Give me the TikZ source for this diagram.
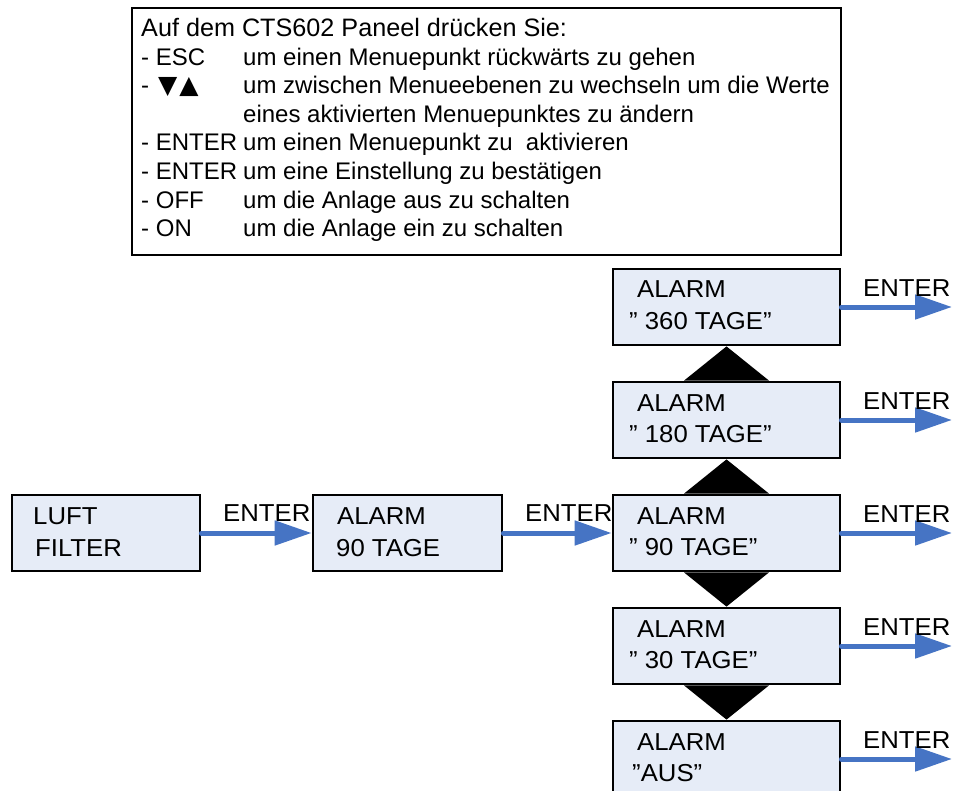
\documentclass[tikz,border=0pt]{standalone}
\usepackage{fontspec}
\setmainfont{Liberation Sans}
\newfontfamily\boxfont[FakeStretch=1.05]{Liberation Sans}
\newfontfamily\symfont{DejaVu Sans}
\usetikzlibrary{arrows.meta,backgrounds}
\definecolor{boxfill}{RGB}{230,236,247}
\definecolor{arrowblue}{RGB}{70,116,196}
\tikzset{
  legendbox/.style={draw=black, line width=2pt, fill=white, inner sep=0pt,
    minimum width=709pt, minimum height=247pt},
  legendtxt/.style={anchor=base west, inner sep=0pt, font=\fontsize{24}{28}\selectfont},
  menubox/.style={draw=black, line width=2.8pt, fill=boxfill, inner sep=0pt,
    minimum height=76pt},
  boxtxt/.style={anchor=base west, inner sep=0pt, font=\boxfont\fontsize{24.5}{28}\selectfont},
  entertxt/.style={anchor=base west, inner sep=0pt, font=\boxfont\fontsize{24.5}{28}\selectfont},
  enterarrow/.style={draw=arrowblue, line width=5pt, line cap=round,
    -{Triangle[length=37pt,width=24pt]}},
  switchtri/.style={fill=black}
}
\begin{document}
\begin{tikzpicture}[x=1pt,y=-1pt]
\useasboundingbox (0,0) rectangle (957,791);

% legend box
\node[legendbox] (legend) at (486.5,131.5) {};
\node[legendtxt, font=\fontsize{25.2}{28}\selectfont] (l1) at (141,36.5) {Auf dem CTS602 Paneel drücken Sie:};
\node[legendtxt] (l2a) at (141,65.1) {- ESC};
\node[legendtxt] (l2b) at (243,65.1) {um einen Menuepunkt rückwärts zu gehen};
\node[legendtxt] (l3a) at (141,93.7) {-\kern9pt{\symfont\fontsize{25}{28}\selectfont ▼\kern2pt▲}};
\node[legendtxt] (l3b) at (243,93.7) {um zwischen Menueebenen zu wechseln um die Werte};
\node[legendtxt] (l4b) at (243,122.3) {eines aktivierten Menuepunktes zu ändern};
\node[legendtxt] (l5a) at (141,150.9) {- ENTER};
\node[legendtxt] (l5b) at (243,150.9) {um einen Menuepunkt zu\ \ aktivieren};
\node[legendtxt] (l6a) at (141,179.5) {- ENTER};
\node[legendtxt] (l6b) at (243,179.5) {um eine Einstellung zu bestätigen};
\node[legendtxt] (l7a) at (141,208.1) {- OFF};
\node[legendtxt] (l7b) at (243,208.1) {um die Anlage aus zu schalten};
\node[legendtxt] (l8a) at (141,236.7) {- ON};
\node[legendtxt] (l8b) at (243,236.7) {um die Anlage ein zu schalten};

% menu boxes
\node[menubox, minimum width=188pt] (luft) at (106,533) {};
\node[menubox, minimum width=189pt] (a90) at (407.5,533) {};
\node[menubox, minimum width=227pt] (r360) at (726.5,307) {};
\node[menubox, minimum width=227pt] (r180) at (726.5,420) {};
\node[menubox, minimum width=227pt] (r90) at (726.5,533) {};
\node[menubox, minimum width=227pt] (r30) at (726.5,646) {};
\node[menubox, minimum width=227pt] (raus) at (726.5,759) {};

% box texts
\node[boxtxt] (t1a) at (33,524.5) {LUFT};
\node[boxtxt] (t1b) at (35,556) {FILTER};
\node[boxtxt] (t2a) at (337,524.5) {ALARM};
\node[boxtxt] (t2b) at (336,556) {90 TAGE};
\node[boxtxt] (t3a) at (637,298) {ALARM};
\node[boxtxt] (t3b) at (629,329.5) {” 360 TAGE”};
\node[boxtxt] (t4a) at (637,411) {ALARM};
\node[boxtxt] (t4b) at (629,442.5) {” 180 TAGE”};
\node[boxtxt] (t5a) at (637,524) {ALARM};
\node[boxtxt] (t5b) at (629,555.5) {” 90 TAGE”};
\node[boxtxt] (t6a) at (637,637) {ALARM};
\node[boxtxt] (t6b) at (629,668.5) {” 30 TAGE”};
\node[boxtxt] (t7a) at (637,750) {ALARM};
\node[boxtxt] (t7b) at (632,781.5) {”AUS”};

% up/down switching triangles
\begin{scope}[on background layer]
\fill[switchtri] (r360.south) -- ([xshift=-42.5pt]r180.north) -- ([xshift=42.5pt]r180.north) -- cycle;
\fill[switchtri] (r180.south) -- ([xshift=-42.5pt]r90.north) -- ([xshift=42.5pt]r90.north) -- cycle;
\fill[switchtri] (r30.north) -- ([xshift=-42.5pt]r90.south) -- ([xshift=42.5pt]r90.south) -- cycle;
\fill[switchtri] (raus.north) -- ([xshift=-42.5pt]r30.south) -- ([xshift=42.5pt]r30.south) -- cycle;
\end{scope}

% ENTER arrows
\coordinate (e360) at (952,307);
\coordinate (e180) at (952,420);
\coordinate (e90) at (952,533);
\coordinate (e30) at (952,646);
\coordinate (eaus) at (952,759);
\draw[enterarrow] (luft.east) -- (a90.west);
\draw[enterarrow] (a90.east) -- (r90.west);
\draw[enterarrow] (r360.east) -- (e360);
\draw[enterarrow] (r180.east) -- (e180);
\draw[enterarrow] (r90.east) -- (e90);
\draw[enterarrow] (r30.east) -- (e30);
\draw[enterarrow] (raus.east) -- (eaus);

% ENTER labels
\node[entertxt] (n1) at (223,521) {ENTER};
\node[entertxt] (n2) at (525,521) {ENTER};
\node[entertxt] (n3) at (863,296) {ENTER};
\node[entertxt] (n4) at (863,409) {ENTER};
\node[entertxt] (n5) at (863,522) {ENTER};
\node[entertxt] (n6) at (863,635) {ENTER};
\node[entertxt] (n7) at (863,748) {ENTER};
\end{tikzpicture}
\end{document}
